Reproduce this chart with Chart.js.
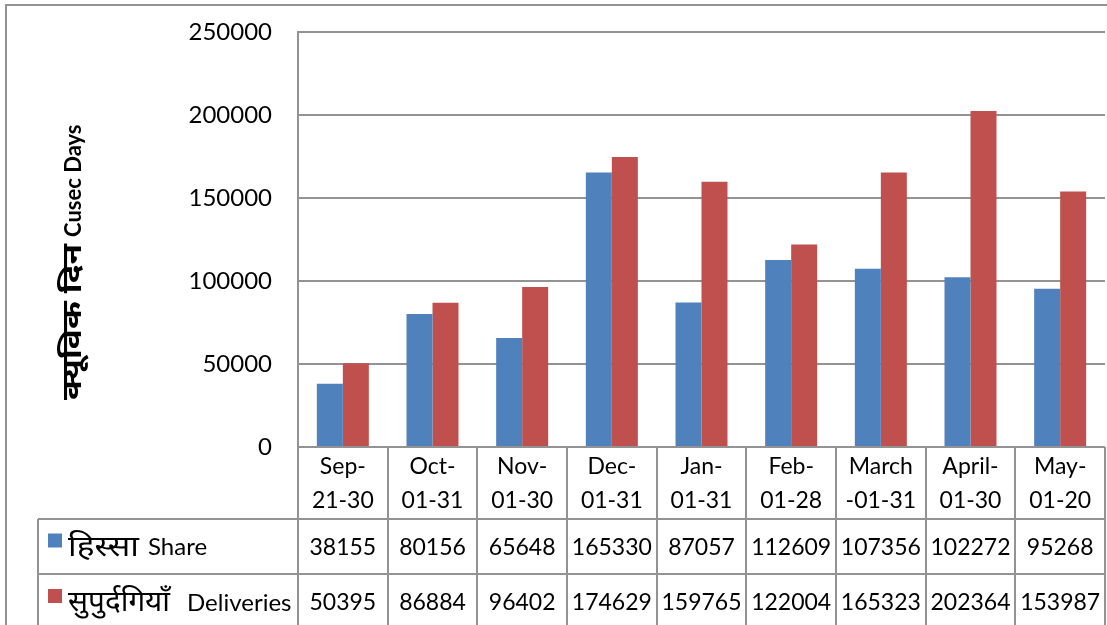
<!DOCTYPE html>
<html>
<head>
<meta charset="utf-8">
<script src="https://cdn.jsdelivr.net/npm/chart.js@4.4.1/dist/chart.umd.min.js"></script>
<style>
  html, body { margin: 0; padding: 0; background: #fff; }
  #wrap { width: 1107px; height: 625px; position: relative; }
</style>
</head>
<body>
<div id="wrap"><canvas id="c" width="1107" height="625"></canvas></div>
<script>
// Periods (two-line category labels)
const categories = [
  ['Sep-', '21-30'], ['Oct-', '01-31'], ['Nov-', '01-30'], ['Dec-', '01-31'],
  ['Jan-', '01-31'], ['Feb-', '01-28'], ['March', '-01-31'], ['April-', '01-30'], ['May-', '01-20']
];
// Cusec days per period
const shareValues = [38155, 80156, 65648, 165330, 87057, 112609, 107356, 102272, 95268];
const deliveryValues = [50395, 86884, 96402, 174629, 159765, 122004, 165323, 202364, 153987];
// Series names: Hindi part and English part
const seriesHindi = ['हिस्सा', 'सुपुर्दगियाँ'];
const seriesEnglish = ['Share', 'Deliveries'];
const yTicks = [0, 50000, 100000, 150000, 200000, 250000];
const yTitleHindi = 'क्यूविक दिन';
const yTitleEnglish = 'Cusec Days';

const FONT = "Lato, 'Noto Sans', 'DejaVu Sans', sans-serif";
const LINE = '#939393';
const BLUE = '#4F81BD';
const RED = '#C0504D';

// Draw text stretched or squeezed along its baseline to a given width
function fillTextWidth(ctx, text, x, y, width) {
  const w = ctx.measureText(text).width;
  ctx.save();
  ctx.translate(x, y);
  ctx.scale(width / w, 1);
  ctx.fillText(text, 0, 0);
  ctx.restore();
}

// Frame, axis title and the data table under the category axis
const tablePlugin = {
  id: 'dataTable',
  afterDraw(chart) {
    const ctx = chart.ctx;
    const x = chart.scales.x;
    const area = chart.chartArea;
    const H = chart.height;
    const n = categories.length;
    const cw = (x.right - x.left) / n;
    const row1 = 519, row2 = 574;
    const labelLeft = 38;

    ctx.save();
    ctx.strokeStyle = LINE;
    ctx.lineWidth = 2;
    ctx.beginPath();
    // outer frame
    ctx.moveTo(5, 5); ctx.lineTo(chart.width, 5);
    ctx.moveTo(6, 5); ctx.lineTo(6, H);
    // category boundaries
    for (let i = 0; i <= n; i++) {
      const px = Math.round(x.left + i * cw);
      ctx.moveTo(px, area.bottom); ctx.lineTo(px, H);
    }
    // row separators
    ctx.moveTo(labelLeft, row1); ctx.lineTo(x.right, row1);
    ctx.moveTo(labelLeft, row2); ctx.lineTo(x.right, row2);
    ctx.moveTo(labelLeft, row1); ctx.lineTo(labelLeft, H);
    ctx.stroke();

    // series rows
    const rows = [
      { color: BLUE, values: shareValues, cy: (row1 + row2) / 2, hiW: 71, engX: 148 },
      { color: RED, values: deliveryValues, cy: row2 + 28, hiW: 102, engX: 187 }
    ];
    ctx.textBaseline = 'middle';
    rows.forEach((r, k) => {
      ctx.fillStyle = r.color;
      ctx.fillRect(48, r.cy - 13, 14, 14);
      ctx.fillStyle = '#000';
      ctx.textAlign = 'left';
      ctx.font = `29px ${FONT}`;
      fillTextWidth(ctx, seriesHindi[k], 68, r.cy, r.hiW);
      ctx.font = `24px ${FONT}`;
      ctx.fillText(seriesEnglish[k], r.engX, r.cy + 1);
      ctx.font = `23px ${FONT}`;
      ctx.textAlign = 'center';
      r.values.forEach((v, i) => {
        ctx.fillText(String(v), x.getPixelForValue(i), r.cy + 1);
      });
    });

    // value axis title, read bottom to top
    ctx.save();
    ctx.translate(81, 400);
    ctx.rotate(-Math.PI / 2);
    ctx.textAlign = 'left';
    ctx.textBaseline = 'alphabetic';
    ctx.font = `bold 27px ${FONT}`;
    fillTextWidth(ctx, yTitleHindi, 0, 0, 156);
    ctx.font = `bold 22px ${FONT}`;
    ctx.fillText(yTitleEnglish, 163, 0);
    ctx.restore();
    ctx.restore();
  }
};

new Chart(document.getElementById('c'), {
  type: 'bar',
  data: {
    labels: categories,
    datasets: [
      { label: seriesEnglish[0], data: shareValues, backgroundColor: BLUE, borderWidth: 0 },
      { label: seriesEnglish[1], data: deliveryValues, backgroundColor: RED, borderWidth: 0 }
    ]
  },
  options: {
    responsive: false,
    animation: false,
    layout: { padding: { top: 32, right: 2, left: 0, bottom: 0 } },
    plugins: { legend: { display: false }, tooltip: { enabled: false }, title: { display: false } },
    datasets: { bar: { barPercentage: 1.0, categoryPercentage: 0.58 } },
    scales: {
      x: {
        grid: { display: false, drawTicks: false },
        border: { display: false },
        ticks: {
          color: '#000', maxRotation: 0, autoSkip: false, padding: 3,
          font: { family: FONT, size: 23, lineHeight: 1.48 }
        },
        afterFit(s) { s.height = 178; s.paddingLeft = 0; s.paddingRight = 0; }
      },
      y: {
        min: 0, max: 250000,
        afterBuildTicks(s) { s.ticks = yTicks.map(v => ({ value: v })); },
        grid: { color: LINE, lineWidth: 2, drawTicks: false },
        border: { display: true, color: LINE, width: 2 },
        ticks: {
          color: '#000', padding: 26,
          font: { family: FONT, size: 24 },
          callback: v => String(v)
        },
        title: { display: false },
        afterFit(s) { s.width = 298; s.paddingTop = 0; s.paddingBottom = 0; }
      }
    }
  },
  plugins: [tablePlugin]
});
</script>
</body>
</html>
